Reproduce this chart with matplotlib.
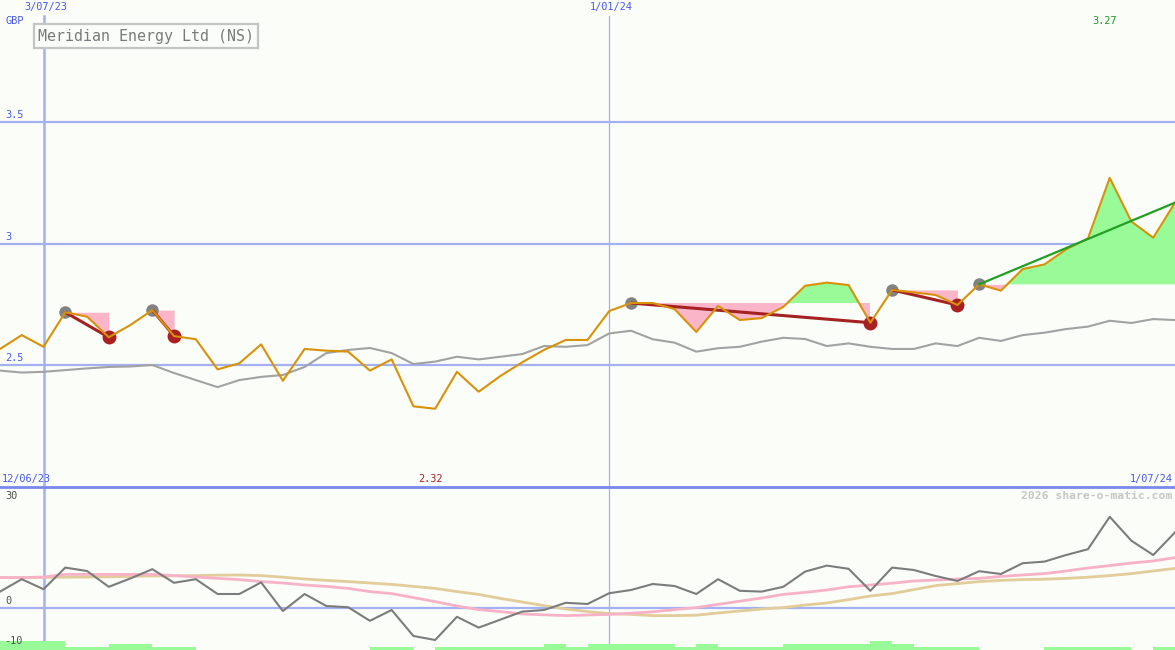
import numpy as np
import matplotlib
matplotlib.use('Agg')
import matplotlib.pyplot as plt

# ---------------- data ----------------
title = 'Meridian Energy Ltd (NS)'
currency = 'GBP'
price = [2.566, 2.623, 2.575, 2.717, 2.699, 2.614, 2.665, 2.726, 2.619, 2.606,
         2.482, 2.507, 2.585, 2.435, 2.566, 2.559, 2.555, 2.477, 2.523, 2.33,
         2.32, 2.472, 2.390, 2.455, 2.511, 2.562, 2.603, 2.603, 2.722, 2.755,
         2.755, 2.730, 2.636, 2.743, 2.685, 2.693, 2.739, 2.826, 2.839, 2.829,
         2.674, 2.809, 2.799, 2.788, 2.747, 2.832, 2.806, 2.895, 2.914, 2.976,
         3.021, 3.27, 3.090, 3.024, 3.168]
index_line = [2.477, 2.469, 2.472, 2.479, 2.486, 2.492, 2.494, 2.500, 2.467, 2.438,
              2.409, 2.438, 2.451, 2.459, 2.492, 2.549, 2.562, 2.570, 2.549, 2.504,
              2.514, 2.534, 2.523, 2.534, 2.545, 2.578, 2.575, 2.582, 2.630, 2.641,
              2.606, 2.592, 2.555, 2.569, 2.575, 2.596, 2.612, 2.607, 2.578, 2.589,
              2.575, 2.566, 2.566, 2.589, 2.578, 2.612, 2.599, 2.623, 2.633, 2.648,
              2.658, 2.682, 2.673, 2.689, 2.685]
momentum = [4.1, 7.2, 4.7, 10.1, 9.25, 5.3, 7.4, 9.7, 6.3, 7.2,
            3.5, 3.5, 6.4, -0.75, 3.5, 0.5, 0.2, -3.2, -0.5, -7.0,
            -8.0, -2.2, -4.9, -2.9, -0.9, -0.5, 1.3, 1.0, 3.7, 4.5,
            6.0, 5.5, 3.5, 7.2, 4.3, 4.1, 5.3, 9.1, 10.6, 9.8,
            4.3, 10.1, 9.5, 8.0, 6.75, 9.2, 8.5, 11.2, 11.6, 13.25,
            14.7, 22.8, 16.8, 13.25, 18.9]
mom_fast = [7.6, 7.6, 7.75, 8.4, 8.4, 8.4, 8.4, 8.4, 8.1, 7.75,
            7.4, 7.1, 6.6, 6.25, 5.75, 5.4, 4.9, 4.1, 3.6, 2.6,
            1.6, 0.5, -0.4, -0.9, -1.5, -1.7, -1.9, -1.75, -1.6, -1.3,
            -0.95, -0.4, 0.1, 0.9, 1.7, 2.5, 3.4, 3.9, 4.5, 5.3,
            5.75, 6.2, 6.75, 7.0, 7.25, 7.4, 7.9, 8.25, 8.6, 9.25,
            10.0, 10.6, 11.25, 11.75, 12.6]
mom_slow = [7.6, 7.6, 7.65, 7.7, 7.75, 7.8, 7.9, 8.0, 8.05, 8.1,
            8.2, 8.25, 8.1, 7.7, 7.25, 6.9, 6.6, 6.25, 5.9, 5.4,
            4.9, 4.1, 3.4, 2.4, 1.5, 0.6, -0.25, -0.9, -1.4, -1.6,
            -1.9, -1.9, -1.8, -1.25, -0.75, -0.25, 0.1, 0.75, 1.25, 2.1,
            3.0, 3.6, 4.6, 5.6, 6.1, 6.6, 6.9, 7.1, 7.2, 7.4,
            7.7, 8.1, 8.6, 9.25, 9.9]
volume_level = [3, 3, 3, 1, 1, 2, 2, 1, 1, 0,
                0, 0, 0, 0, 0, 0, 0, 1, 1, 0,
                1, 1, 1, 1, 1, 2, 1, 2, 2, 2,
                2, 1, 2, 1, 1, 1, 2, 2, 2, 2,
                3, 2, 1, 1, 1, 0, 0, 0, 1, 1,
                1, 1, 0, 1]
swing_high = [3, 7, 29, 41, 45]
swing_low = [5, 8, 40, 44, None]
tick_idx = [2, 28]
tick_labels = ['3/07/23', '1/01/24']
range_start_label = '12/06/23'
range_end_label = '1/07/24'
price_grid = [2.5, 3.0, 3.5]
price_grid_labels = ['2.5', '3', '3.5']
mom_labels = [30, 0, -10]
watermark = '2026 share-o-matic.com'

# ---------------- style ----------------
bg = '#fafdf8'
grid_c = '#a3b1f2'
sep_c = '#7888ee'
lab_c = '#4a58e6'
orange = '#d8920a'
grey_line = '#a2a2a2'
pink_fill = '#fbb5c9'
green_fill = '#98fb98'
dark_red = '#a52222'
trend_green = '#22a022'
mono = 'DejaVu Sans Mono'

W, H = 1175, 650
fig = plt.figure(figsize=(W / 100, H / 100), dpi=100)
fig.patch.set_facecolor(bg)
main_h = 487 / 650
ax = fig.add_axes([0, 1 - main_h, 1, main_h])
axl = fig.add_axes([0, 0, 1, 1 - main_h])
n = len(price)
x = np.arange(n)
p = np.array(price)
for a in (ax, axl):
    a.set_facecolor(bg)
    a.set_xlim(0, n - 1)
    a.set_xticks([])
    a.set_yticks([])
    for s in a.spines.values():
        s.set_visible(False)
ax.set_ylim(1.998, 4.002)
axl.set_ylim(-10.5, 30.25)
axl.spines['top'].set_visible(True)
axl.spines['top'].set_color(sep_c)
axl.spines['top'].set_linewidth(2)
axl.spines['top'].set_zorder(10)

# grid
for v in price_grid:
    ax.axhline(v, color=grid_c, lw=1.6, zorder=1)
axl.axhline(0, color=grid_c, lw=1.6, zorder=1)
for i, t in zip(tick_idx, tick_labels):
    lw = 1.8 if i == tick_idx[0] else 0.9
    ax.axvline(i, ymax=1 - 16 / 487, color=grid_c, lw=lw, zorder=1)
    axl.axvline(i, color=grid_c, lw=lw, zorder=1)
    ax.annotate(t, xy=(i, 1), xycoords=('data', 'axes fraction'), xytext=(2, -2),
                textcoords='offset pixels', ha='center', va='top', color=lab_c,
                fontsize=7.4, family=mono)

# swing fills and lines
for hi, lo in zip(swing_high, swing_low):
    end = lo if lo is not None else n - 1
    xs = x[hi:end + 1]
    ys = p[hi:end + 1]
    level = p[hi]
    ax.fill_between(xs, level, ys, where=ys <= level, interpolate=True,
                    color=pink_fill, lw=0, zorder=2)
    ax.fill_between(xs, level, ys, where=ys >= level, interpolate=True,
                    color=green_fill, lw=0, zorder=2)

hi_idx = [h for h in swing_high]
lo_idx = [l for l in swing_low if l is not None]
ax.plot(hi_idx, p[hi_idx], 'o', color='#828282', ms=9, mew=0, zorder=2.5)
ax.plot(lo_idx, p[lo_idx], 'o', color='#aa2020', ms=10, mew=0, zorder=2.5)

ax.plot(x, index_line, color=grey_line, lw=1.5, zorder=3)
for hi, lo in zip(swing_high, swing_low):
    if lo is not None:
        ax.plot([hi, lo], [p[hi], p[lo]], color=dark_red, lw=2.2, zorder=4,
                solid_capstyle='butt')
ax.plot(x, p, color=orange, lw=1.5, zorder=5)
for hi, lo in zip(swing_high, swing_low):
    if lo is None:
        ax.plot([hi, n - 1], [p[hi], p[-1]], color=trend_green, lw=1.6, zorder=6)

# labels main panel
for v, t in zip(price_grid, price_grid_labels):
    ax.annotate(t, xy=(0, v), xycoords=('axes fraction', 'data'), xytext=(5, 2),
                textcoords='offset pixels', ha='left', va='bottom', color=lab_c,
                fontsize=7.4, family=mono)
ax.annotate(currency, xy=(0, 1), xycoords='axes fraction', xytext=(5, -16),
            textcoords='offset pixels', ha='left', va='top', color=lab_c,
            fontsize=7.4, family=mono)
ax.annotate(title, xy=(0, 1), xycoords='axes fraction', xytext=(38, -36),
            textcoords='offset pixels', ha='left', va='center', color='#7a7a7a',
            fontsize=10.8, family=mono,
            bbox=dict(boxstyle='square,pad=0.27', fc=bg, ec='#c4c4c4', lw=1.6))
imax = int(np.argmax(p))
imin = int(np.argmin(p))
ax.annotate(f'{p[imax]:.2f}', xy=(imax, 1), xycoords=('data', 'axes fraction'),
            xytext=(-5, -16), textcoords='offset pixels', ha='center', va='top',
            color='#229922', fontsize=7.4, family=mono)
ax.annotate(f'{p[imin]:.2f}', xy=(imin, 0), xycoords=('data', 'axes fraction'),
            xytext=(-5, 3), textcoords='offset pixels', ha='center', va='bottom',
            color=dark_red, fontsize=7.4, family=mono)
ax.annotate(range_start_label, xy=(0, 0), xycoords='axes fraction', xytext=(2, 3),
            textcoords='offset pixels', ha='left', va='bottom', color=lab_c,
            fontsize=7.4, family=mono)
ax.annotate(range_end_label, xy=(1, 0), xycoords='axes fraction', xytext=(-2, 3),
            textcoords='offset pixels', ha='right', va='bottom', color=lab_c,
            fontsize=7.4, family=mono)

# lower panel
vol_unit = 0.75
axl.bar(np.arange(len(volume_level)), np.array(volume_level) * vol_unit, width=1.0,
        align='edge', bottom=-10.5, color=green_fill, lw=0, zorder=2)
axl.plot(x, mom_slow, color='#e2cc9a', lw=2.0, zorder=3)
axl.plot(x, mom_fast, color='#f8b2c8', lw=2.0, zorder=4)
axl.plot(x, momentum, color='#7c7c7c', lw=1.5, zorder=5)
for v in mom_labels:
    if v == mom_labels[0]:
        axl.annotate(str(v), xy=(0, 1), xycoords='axes fraction', xytext=(5, -4),
                     textcoords='offset pixels', ha='left', va='top', color='#505050',
                     fontsize=7.4, family=mono)
    else:
        axl.annotate(str(v), xy=(0, v), xycoords=('axes fraction', 'data'),
                     xytext=(4 if v < 0 else 5, 2), textcoords='offset pixels',
                     ha='left', va='bottom', color='#505050', fontsize=7.4, family=mono)
axl.annotate(watermark, xy=(1, 1), xycoords='axes fraction', xytext=(-3, -4),
             textcoords='offset pixels', ha='right', va='top', color='#c6c6c6',
             fontsize=8.2, family=mono, fontweight='bold')

fig.savefig('out.png', dpi=100, facecolor=bg)
